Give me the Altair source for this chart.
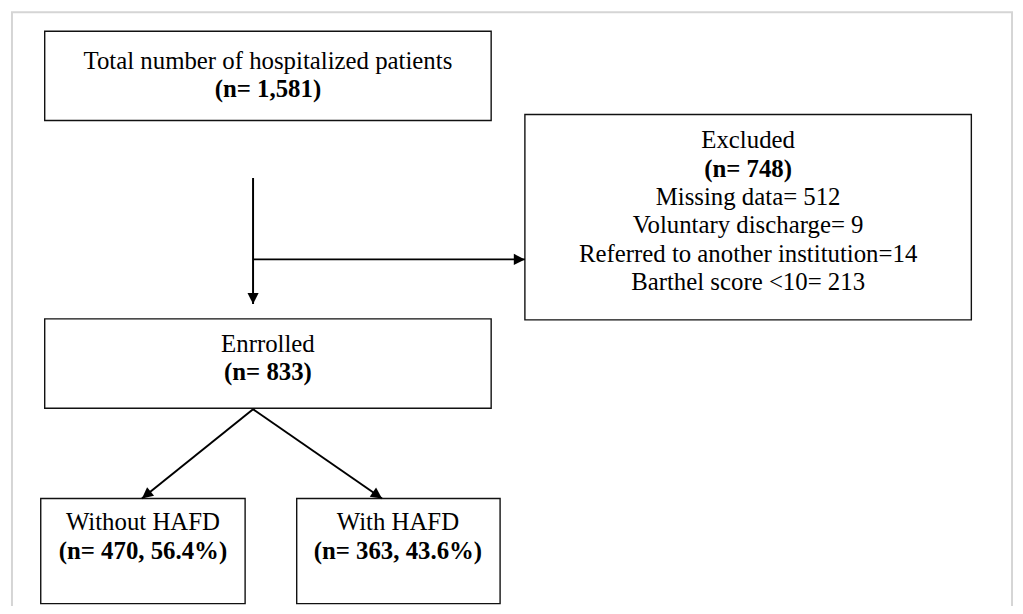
import math
import altair as alt
import pandas as pd

# ---- content ----
box_titles = ["Total number of hospitalized patients", "Excluded", "Enrrolled",
              "Without HAFD", "With HAFD"]
box_counts = ["(n= 1,581)", "(n= 748)", "(n= 833)", "(n= 470, 56.4%)", "(n= 363, 43.6%)"]
excluded_reasons = ["Missing data= 512", "Voluntary discharge= 9",
                    "Referred to another institution=14", "Barthel score <10= 213"]

# ---- layout (page pixels) ----
box_left = [45, 529, 45, 41, 299]
box_right = [495, 979, 495, 247, 504]
box_top = [29, 113, 319, 500, 500]
box_bottom = [119, 320, 409, 606, 606]
box_center = [270, 754, 270, 144, 401]
title_baseline = [67, 147, 352, 532, 532]
line_gap = 28.6

arrow_x1 = [255, 255, 255, 255]
arrow_y1 = [177, 259, 410, 410]
arrow_x2 = [255, 529, 143, 385]
arrow_y2 = [304, 259, 500, 500]

frame = dict(x=12, x2=1020, y=10, y2=640)

W, H = 1015, 598
FONT = "Liberation Serif"
FS = 25

xs = alt.Scale(domain=[8, 8 + W], nice=False, zero=False)
ys = alt.Scale(domain=[8, 8 + H], nice=False, zero=False, reverse=True)

def X(f):
    return alt.X(f, type="quantitative", scale=xs, axis=None)

def Y(f):
    return alt.Y(f, type="quantitative", scale=ys, axis=None)

boxes = pd.DataFrame({"x": box_left, "x2": box_right, "y": box_top, "y2": box_bottom})

titles = pd.DataFrame({"t": box_titles, "x": box_center, "y": title_baseline})
counts = pd.DataFrame({"t": box_counts, "x": box_center,
                       "y": [b + line_gap for b in title_baseline]})
reasons = pd.DataFrame({"t": excluded_reasons, "x": [box_center[1]] * len(excluded_reasons),
                        "y": [title_baseline[1] + line_gap * (k + 2) for k in range(len(excluded_reasons))]})

arrows = pd.DataFrame({"x": arrow_x1, "y": arrow_y1, "x2": arrow_x2, "y2": arrow_y2})
arrows["angle"] = [
    (math.degrees(math.atan2(-(x2 - x1), (y2 - y1))) + 360) % 360
    for x1, y1, x2, y2 in zip(arrow_x1, arrow_y1, arrow_x2, arrow_y2)
]

frame_df = pd.DataFrame([frame])

frame_layer = alt.Chart(frame_df).mark_rect(filled=False, stroke="#d5d5d5", strokeWidth=2).encode(
    x=X("x"), x2="x2", y=Y("y"), y2="y2")

box_layer = alt.Chart(boxes).mark_rect(filled=False, stroke="#111111", strokeWidth=1.4).encode(
    x=X("x"), x2="x2", y=Y("y"), y2="y2")

line_layer = alt.Chart(arrows).mark_rule(color="black", strokeWidth=2).encode(
    x=X("x"), x2="x2", y=Y("y"), y2="y2")

head_layer = alt.Chart(arrows).mark_point(
    shape="M0,0L-0.5,-1L0.5,-1Z", filled=True, color="black", opacity=1,
    size=500, strokeWidth=0).encode(
    x=X("x2"), y=Y("y2"), angle=alt.Angle("angle:Q", scale=None))

def text_layer(df, bold=False):
    return alt.Chart(df).mark_text(
        font=FONT, fontSize=FS, fontWeight="bold" if bold else "normal",
        color="black", align="center", baseline="alphabetic").encode(
        x=X("x"), y=Y("y"), text="t:N")

chart = alt.layer(
    frame_layer, box_layer, line_layer, head_layer,
    text_layer(titles), text_layer(counts, bold=True), text_layer(reasons),
).properties(width=W, height=H, padding=0, autosize="none", background="white"
).configure_view(stroke=None)

chart.save("out.html", embed_options={"renderer": "svg", "actions": False})
